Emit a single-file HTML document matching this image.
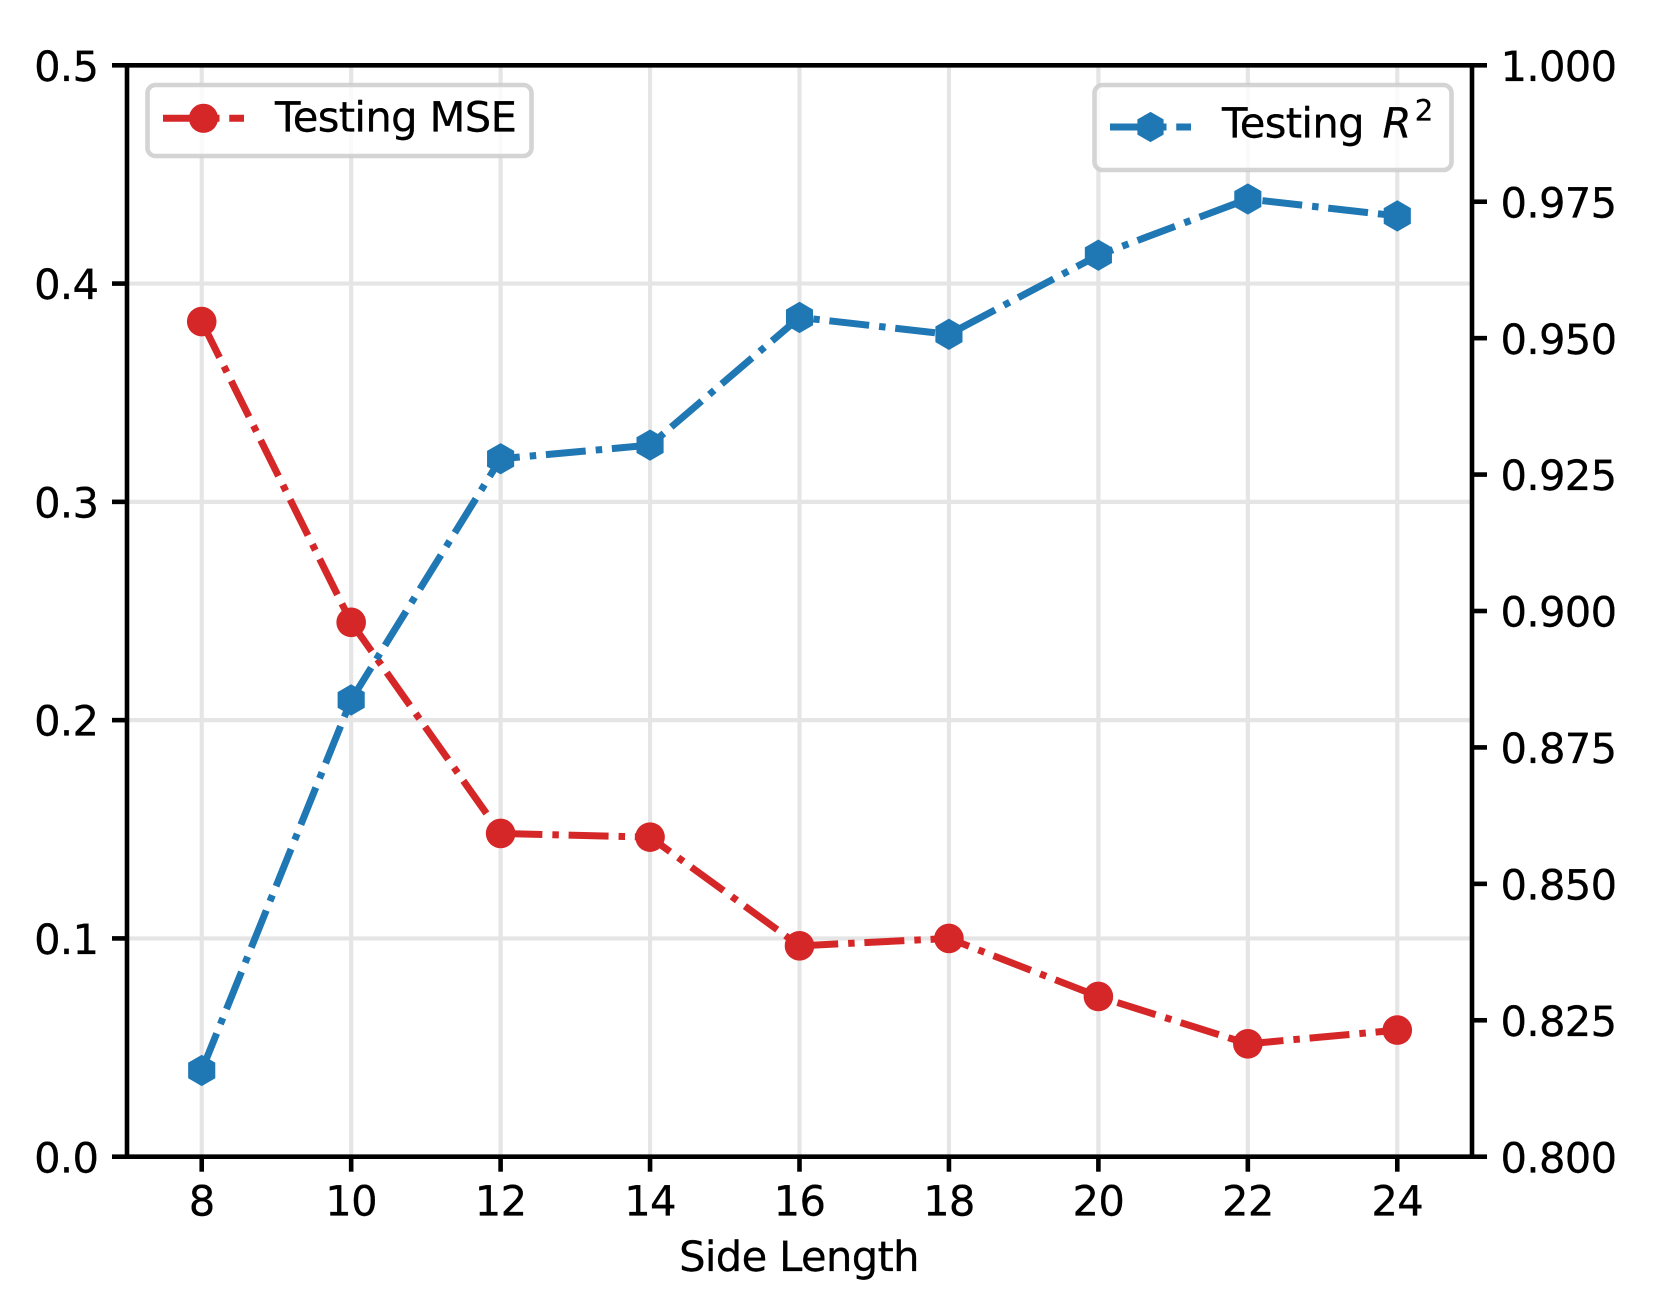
<!DOCTYPE html>
<html lang="en">
<head>
<meta charset="utf-8">
<title>Testing MSE and R² by Side Length</title>
<style>
html,body{margin:0;padding:0;background:#fff;width:1653px;height:1312px;overflow:hidden}
svg{display:block}
text{font-family:"DejaVu Sans","Liberation Sans",sans-serif;font-size:41.67px;letter-spacing:-0.65px;fill:#000;text-rendering:geometricPrecision;stroke:#000;stroke-width:0.3px}
</style>
</head>
<body>
<svg id="chart" xmlns="http://www.w3.org/2000/svg" width="1653" height="1312" viewBox="0 0 1653 1312">
  <rect x="0" y="0" width="1653" height="1312" fill="#ffffff"/>
  <g id="grid"></g>
  <g id="series-left"></g>
  <g>
    <rect x="147.5" y="85" width="384" height="71" rx="8" ry="8" fill="#ffffff" fill-opacity="0.8" stroke="#cccccc" stroke-opacity="0.85" stroke-width="4.6"/>
    <line x1="163" y1="118.3" x2="244" y2="118.3" stroke="#d62728" stroke-width="7" stroke-dasharray="40 10 6.5 9.75"/>
    <circle cx="203.5" cy="118.3" r="14.6" fill="#d62728"/>
    <text x="275" y="131.7">Testing MSE</text>
  </g>
  <g id="series-right"></g>
  <g>
    <rect x="1094.5" y="85" width="357" height="85" rx="8" ry="8" fill="#ffffff" fill-opacity="0.8" stroke="#cccccc" stroke-opacity="0.85" stroke-width="4.6"/>
    <line x1="1110" y1="127" x2="1191" y2="127" stroke="#1f77b4" stroke-width="7" stroke-dasharray="40 10 6.5 9.75"/>
    <polygon points="1150.5,114.5 1161.3,120.75 1161.3,133.25 1150.5,139.5 1139.7,133.25 1139.7,120.75" fill="#1f77b4" stroke="#1f77b4" stroke-width="4.6" stroke-linejoin="miter"/>
    <text x="1222" y="137.3">Testing <tspan font-family="DejaVu Sans" font-style="italic" dx="6">R</tspan><tspan font-size="29.2" dx="4" dy="-17">2</tspan></text>
  </g>
  <g id="axes"></g>
  <text x="799" y="1271" text-anchor="middle">Side Length</text>
</svg>
<script>
const categories = [8, 10, 12, 14, 16, 18, 20, 22, 24];
const mseValues = [0.3826, 0.2448, 0.1481, 0.1464, 0.0966, 0.1000, 0.0734, 0.0517, 0.0580];
const r2Values = [0.8158, 0.8837, 0.9279, 0.9304, 0.9538, 0.9507, 0.9652, 0.9755, 0.9724];
const xTickValues = [8, 10, 12, 14, 16, 18, 20, 22, 24];
const leftTickLabels = ['0.0', '0.1', '0.2', '0.3', '0.4', '0.5'];
const rightTickLabels = ['0.800', '0.825', '0.850', '0.875', '0.900', '0.925', '0.950', '0.975', '1.000'];

const plot = { left: 127, right: 1472, top: 65.3, bottom: 1156.7 };
const xDomain = [7, 25];
const leftDomain = [0, 0.5];
const rightDomain = [0.8, 1.0];

function xScale(v) {
  return plot.left + (v - xDomain[0]) / (xDomain[1] - xDomain[0]) * (plot.right - plot.left);
}
function yLeft(v) {
  return plot.bottom - (v - leftDomain[0]) / (leftDomain[1] - leftDomain[0]) * (plot.bottom - plot.top);
}
function yRight(v) {
  return plot.bottom - (v - rightDomain[0]) / (rightDomain[1] - rightDomain[0]) * (plot.bottom - plot.top);
}

const NS = 'http://www.w3.org/2000/svg';
function make(tag, attrs, parent) {
  const el = document.createElementNS(NS, tag);
  for (const k in attrs) el.setAttribute(k, attrs[k]);
  parent.appendChild(el);
  return el;
}

const gridGroup = document.getElementById('grid');
const axesGroup = document.getElementById('axes');
const leftGroup = document.getElementById('series-left');
const rightGroup = document.getElementById('series-right');
const gridStyle = { stroke: '#e5e5e5', 'stroke-width': 4.17 };
const axisStyle = { stroke: '#000000', 'stroke-width': 4.6 };

xTickValues.forEach(function (v) {
  const x = xScale(v);
  const g = make('line', Object.assign({ x1: x, x2: x, y1: plot.top, y2: plot.bottom }, gridStyle), gridGroup);
  
  
  const t = make('line', Object.assign({ x1: x, x2: x, y1: plot.bottom, y2: plot.bottom + 15 }, axisStyle), axesGroup);
  
  
  const l = make('text', { x: x, y: 1215.7, 'text-anchor': 'middle' }, axesGroup);
  l.textContent = String(v);
  
  
});

leftTickLabels.forEach(function (label) {
  const v = parseFloat(label);
  const y = yLeft(v);
  if (v > leftDomain[0] && v < leftDomain[1]) {
    const g = make('line', Object.assign({ x1: plot.left, x2: plot.right, y1: y, y2: y }, gridStyle), gridGroup);
    
    
  }
  const t = make('line', Object.assign({ x1: plot.left - 15, x2: plot.left, y1: y, y2: y }, axisStyle), axesGroup);
  
  
  const l = make('text', { x: 98.4, y: y + 15.6, 'text-anchor': 'end' }, axesGroup);
  l.textContent = label;
  
  
});

rightTickLabels.forEach(function (label) {
  const y = yRight(parseFloat(label));
  const t = make('line', Object.assign({ x1: plot.right, x2: plot.right + 15, y1: y, y2: y }, axisStyle), axesGroup);
  
  
  const l = make('text', { x: 1500.5, y: y + 15.6 }, axesGroup);
  l.textContent = label;
  
  
});

const spineTop = make('line', Object.assign({ x1: plot.left - 2, x2: plot.right + 2, y1: plot.top, y2: plot.top }, axisStyle), axesGroup);


const spineBottom = make('line', Object.assign({ x1: plot.left - 2, x2: plot.right + 2, y1: plot.bottom, y2: plot.bottom }, axisStyle), axesGroup);


const spineLeft = make('line', Object.assign({ x1: plot.left, x2: plot.left, y1: plot.top, y2: plot.bottom }, axisStyle), axesGroup);


const spineRight = make('line', Object.assign({ x1: plot.right, x2: plot.right, y1: plot.top, y2: plot.bottom }, axisStyle), axesGroup);



function linePoints(values, yFn) {
  return values.map(function (v, i) { return xScale(categories[i]) + ',' + yFn(v); }).join(' ');
}
const dashPattern = '40 10 6.5 9.75';

const mseLine = make('polyline', { points: linePoints(mseValues, yLeft), fill: 'none', stroke: '#d62728', 'stroke-width': 7, 'stroke-dasharray': dashPattern, 'stroke-linejoin': 'round' }, leftGroup);


mseValues.forEach(function (v, i) {
  const c = make('circle', { cx: xScale(categories[i]), cy: yLeft(v), r: 14.8, fill: '#d62728' }, leftGroup);
  
  
});

const r2Line = make('polyline', { points: linePoints(r2Values, yRight), fill: 'none', stroke: '#1f77b4', 'stroke-width': 7, 'stroke-dasharray': dashPattern, 'stroke-linejoin': 'round' }, rightGroup);


r2Values.forEach(function (v, i) {
  const cx = xScale(categories[i]);
  const cy = yRight(v);
  const r = 13;
  const pts = [];
  for (let k = 0; k < 6; k++) {
    const a = Math.PI / 3 * k;
    pts.push((cx + r * Math.sin(a)) + ',' + (cy - r * Math.cos(a)));
  }
  const h = make('polygon', { points: pts.join(' '), fill: '#1f77b4', stroke: '#1f77b4', 'stroke-width': 4.6, 'stroke-linejoin': 'miter' }, rightGroup);
  
  
});
</script>
</body>
</html>
